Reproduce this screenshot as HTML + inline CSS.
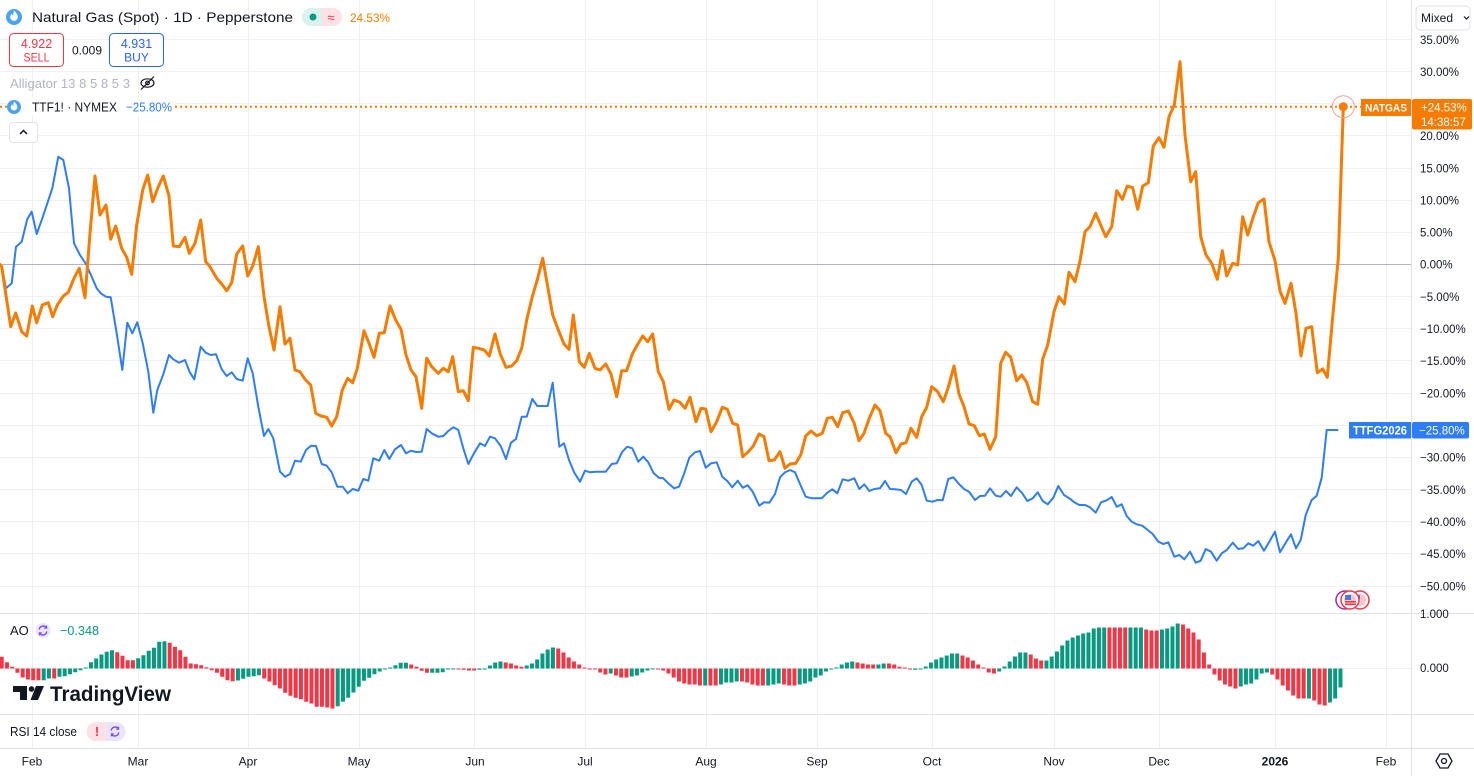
<!DOCTYPE html>
<html><head><meta charset="utf-8">
<style>
html,body{margin:0;padding:0;background:#fff;width:1474px;height:776px;overflow:hidden}
svg{display:block}
text{font-family:"Liberation Sans",sans-serif}
</style></head>
<body>
<svg width="1474" height="776" viewBox="0 0 1474 776" xmlns="http://www.w3.org/2000/svg">
<rect width="1474" height="776" fill="#fff"/>

<!-- grid -->
<g stroke="#eef0f4" stroke-width="1" fill="none">
<path d="M0 39.5H1411M0 71.5H1411M0 103.5H1411M0 135.5H1411M0 168.5H1411M0 200.5H1411M0 232.5H1411M0 296.5H1411M0 328.5H1411M0 360.5H1411M0 393.5H1411M0 425.5H1411M0 457.5H1411M0 489.5H1411M0 521.5H1411M0 553.5H1411M0 586.5H1411M0 668.5H1411"/>
<path d="M32.5 0V748M138.5 0V748M248.5 0V748M359.5 0V748M474.5 0V748M585.5 0V748M706.5 0V748M817.5 0V748M932.5 0V748M1054.5 0V748M1159.5 0V748M1275.5 0V748M1386.5 0V748"/>
</g>
<!-- zero line -->
<path d="M0 264.5H1411" stroke="#b2b5be" stroke-width="1"/>

<!-- pane separators -->
<g stroke="#e0e3eb" stroke-width="1">
<path d="M0 613.5H1474M0 714.5H1474M0 748.5H1474M1411.5 0V776"/>
</g>

<!-- orange dotted price line -->
<path d="M0 106.7H1361" stroke="#F57C00" stroke-width="2" stroke-dasharray="2 3"/>

<!-- blue series -->
<polyline fill="none" stroke="#2E7CF6" stroke-width="2" stroke-linejoin="round" points="0,264.5 1.7,266.7 6,288.3 11.7,283.3 16,246.7 21.7,241.7 27.3,219 31.7,211.7 36.7,234 42.3,218.3 47.3,203.3 52.3,188.3 58.3,156.7 63.3,160 69,188.3 74,243.3 80,255 86,264 91.7,276.7 96.7,288.3 100.7,293.3 106,296.7 110.7,297.3 116.7,333.3 122.3,370 127.3,322.7 132.3,333.3 137.3,322.3 142.7,343.3 148.3,371.7 153.3,412.7 157.3,390 163.3,374.3 169,355 173.3,359.3 179,362.7 185,360 190,372.7 194.3,379.3 200.7,346.7 205.7,352.7 210.7,355 216,354.3 221.7,369.3 226.7,376 231.7,372.3 236.7,379 242.7,380.7 247.7,358.3 252.7,373.3 258.3,406.7 264,436 268.3,429 273.3,438.3 280,471.7 285,476.7 290,474 295,460.7 300.7,461.7 306,450 311,445.7 316,446 321.7,464 326.7,465.7 331.7,472.3 337.3,486.7 342.7,486.7 347.7,493.3 352.7,489 358.3,490.7 363.3,479 368.3,480.7 373.3,458.3 379.3,460.7 384.3,450 389.3,459 395,449.3 401,445 406,453.3 411,450.7 416,452 421.7,451.7 426.7,429 431.7,433.3 438.3,436.7 443.3,436 448.3,431 453.3,427.3 458.3,430 463.3,448.3 468.3,464 474,453.3 480,443.3 485,446 490,436.7 495,438.3 500.7,446 506,459 511,442.7 516,439 521.7,416.7 526.7,416.7 532.3,399 537.3,406 542.7,406 547.7,406 552.7,382.7 559.3,446.7 564,443.3 569,460 574.3,472.7 580,481.7 585,470.7 590,472.3 595.7,471.7 600.7,471.7 605.7,471.7 611.7,464 616.7,463.3 622.3,451.7 627.3,446.7 632.3,448.3 638.3,461.7 643.3,456.7 648.3,462.3 653.3,472.7 659,477.7 663.3,478.3 668.3,483.3 674,488.3 679,486.7 684,474 689.3,457.7 695,452.3 700,451 705.7,467.7 711,463.3 716.7,462.3 722.3,476.7 727.3,481 732.3,487.3 737.7,480.7 742.7,487.7 747.7,485.3 752.7,491.7 759.3,505.7 764,502.3 769.3,502.7 775,494 780,477.3 785,472.3 790,470 795,472.3 800,484 805.7,496.7 811.7,498.3 816.7,498.3 821.7,498.3 827.3,492.7 832.3,489.3 837.3,493.3 842.7,479.3 848.3,480.7 854.3,478.3 859.3,489 864.3,484.3 869.3,491 874.3,489 880,488.3 885,481 890,489 895,489.3 901,490 906,494 911.7,481.7 916.7,478.3 921.7,485 926.7,500.7 932.3,501.7 937.7,500 942.7,500.3 948.3,479 953.3,477.3 959,484 964,489 969,491.7 975,500 980,496 985,495.7 990,488.3 995.7,495.7 1000.7,496.7 1006,491 1011,496 1016.7,487.3 1022.3,493.3 1027.3,501 1032.7,498.3 1037.7,492.3 1042.7,501 1047.7,504.3 1053.3,497.7 1058.3,486 1064,495 1069.3,498.3 1074.3,502.3 1079.3,505 1085,505 1090,507.3 1095.7,512.7 1101,502.3 1106.7,500.3 1111.7,497 1116.7,506.7 1121.7,504.3 1126.7,516 1131.7,521.7 1136.7,524.3 1142.3,525.7 1147.7,530 1152.7,534 1158.3,541.7 1163.3,544 1168.3,542.3 1174.3,556.7 1179.3,555 1184.3,559.3 1190,551.7 1195.7,562.7 1200.7,560.7 1205.7,549 1211,551.7 1216.7,560.7 1221.7,553.3 1226.7,550 1232.7,542.7 1238.3,549 1243.3,548.3 1248.3,543.3 1253.3,545.7 1258.3,541 1264,550.7 1269.3,541.7 1275,531.7 1280,552.3 1285.7,542.7 1291,534.3 1296,548.3 1300.7,540 1305.7,515 1311.7,500 1316.7,495.7 1321.7,477.7 1326.7,430 1338.3,430"/>

<!-- orange series -->
<polyline fill="none" stroke="#F57C00" stroke-width="3" stroke-linejoin="round" stroke-linecap="round" points="0,264.5 1.7,266.7 10.7,326.7 15.7,313 21.7,331.7 26.7,336 32.3,306 36.7,322.7 42.3,305 48.3,302.7 52.7,316.7 57.3,305 63.3,296 68.3,292.3 74,278.3 79.3,268.3 85,297.7 90,233.3 95,176 100,215 106,205 110.7,239.3 115.7,226 121.7,248.3 126.7,257.3 131.7,274.3 136.7,225 142.7,190 147.7,175 152.7,201.7 158.3,186.7 163.3,176 169,196 173.3,246 179.3,246.7 185,237.3 189.3,253.3 195,243.3 200.7,220 205.7,261.7 210,266.7 216.7,278.3 221.7,284 226.7,290.7 231.7,282.7 236.7,254 242.7,246 247.7,276 252.7,266 258.3,246.7 264,296.7 269,326.7 274,350 280,306.7 285,344 290,338.3 295,370 300,371.7 305,379.3 310.7,385 315.7,413.3 321,416 326.7,417.3 331.7,426 336.7,416.7 342.3,390 347.7,378.3 352.7,382.7 357.3,368.3 364,330.7 369,343.3 374,357.3 379.3,333.3 384.3,332.7 390,306 395.7,320 401,329.3 406,355 411,370 416,376.7 421.7,408.3 426.7,358.3 431.7,366.7 438.3,373.3 443.3,368.3 448.3,371.7 452.7,356.7 458.3,391.7 463.3,390.7 468.3,400.7 473.3,347.3 478.3,348.3 484.3,350 489.3,356 495,334 500,353.3 506,367.3 511.7,366 516.7,360.7 521.7,348.3 526.7,320 532.3,296.7 537.7,278.3 542.7,258.3 547.7,286.7 552.7,315 558.3,330 564,344 569,349.3 573.3,315 579.3,361.7 584.3,367.3 589.3,353.3 595,368.3 600,370 605.7,364 611,374 616.7,396.7 621.7,370.7 626.7,370.7 632.3,354 637.3,345 642.7,336 647.7,341.7 652.7,334 658.3,371.7 663.3,381.7 669,409.3 674,400 680,402.3 685,408.3 690,397.3 696,421.7 701,408.3 705.7,409 711,431.7 716.7,421.7 722.3,407.3 727.3,409.3 732.7,423.3 737.7,425 742.7,456.7 748.3,451.7 753.3,446 759,434 764,436.7 769,460.7 774.3,460 780,451.7 785,468.3 790,464 795.7,463.3 800.7,455 805.7,436 811,431 816.7,435.7 822.3,433.3 827.3,418.3 832.3,417.3 837.7,426.7 842.7,412.7 848.3,411 854,422.7 859,440.7 864,433.3 869.3,418.3 875,405 880,410.7 885.7,433.3 890,436.7 896,452.7 901,444 906,442.7 911,428.3 916.7,437.3 921.7,416.7 926.7,407.3 931.7,386.7 937.7,391.7 943.3,401.7 948.3,387.3 954,366 959,394 964,406.7 969,424 974.3,425.7 979.3,435.7 984.3,434 990,449.3 995.7,436.7 1000.7,363.3 1005.7,352.3 1010.7,357.3 1016.7,380.7 1021.7,375 1026.7,382.3 1032.7,401.7 1037.7,404.3 1042.7,359 1047.7,345 1054,311.7 1059,296.7 1064.3,304 1069,272.3 1075,281.7 1080,261 1085,231.7 1090,226.7 1095.7,213.3 1100.7,225 1105.7,236.7 1111.7,226.7 1116.7,190.7 1122.3,199.3 1127.3,186 1132.7,187.7 1137.7,209.3 1142.7,186 1148.3,182.7 1153.3,146 1159,137.7 1164,147.3 1169,116.7 1174.3,105 1180,61.7 1185,135 1190.7,181.7 1195.7,171.7 1200.7,236.7 1206,255 1211.7,263.3 1217.3,279.3 1222.3,250.7 1226.7,276 1232.7,263.3 1237.7,265 1242.7,216.7 1247.7,235 1253.3,216.7 1258.3,202.7 1264,199 1269,241.7 1275,260.7 1280,291 1285,303.3 1291,283.3 1296,313.3 1301,356 1306,328.3 1311.7,326.7 1317.3,372.7 1322.7,369 1327.3,377.3 1332.7,316.7 1338.3,258.3 1343.3,106.7"/>

<!-- endpoint marker -->
<circle cx="1343.3" cy="106.7" r="11" fill="none" stroke="#f4a0a0" stroke-width="1"/>
<circle cx="1343.3" cy="106.7" r="4.5" fill="#F57C00"/>

<!-- series labels on pane -->
<rect x="1361" y="99" width="50" height="17" fill="#F57C00"/>
<text x="1386" y="111.5" font-size="11" font-weight="bold" fill="#fff" text-anchor="middle" textLength="42" lengthAdjust="spacingAndGlyphs">NATGAS</text>
<rect x="1349" y="422" width="62" height="16.5" fill="#2E7CF6"/>
<text x="1380" y="434.5" font-size="11.5" font-weight="bold" fill="#fff" text-anchor="middle" textLength="54" lengthAdjust="spacingAndGlyphs">TTFG2026</text>

<!-- right axis labels -->
<g font-size="11.5" fill="#131722">
<text x="1420" y="44">35.00%</text>
<text x="1420" y="76">30.00%</text>
<text x="1420" y="140">20.00%</text>
<text x="1420" y="172.5">15.00%</text>
<text x="1420" y="204.5">10.00%</text>
<text x="1420" y="236.5">5.00%</text>
<text x="1420" y="268.5">0.00%</text>
<text x="1420" y="301">−5.00%</text>
<text x="1420" y="333">−10.00%</text>
<text x="1420" y="365">−15.00%</text>
<text x="1420" y="397.5">−20.00%</text>
<text x="1420" y="461.5">−30.00%</text>
<text x="1420" y="494">−35.00%</text>
<text x="1420" y="526">−40.00%</text>
<text x="1420" y="558">−45.00%</text>
<text x="1420" y="590.5">−50.00%</text>
<text x="1420" y="618">1.000</text>
<text x="1420" y="672">0.000</text>
</g>
<rect x="1412" y="613.5" width="62" height="0" fill="none"/>
<!-- right axis badges -->
<rect x="1412" y="99" width="60" height="30.5" rx="2" fill="#F57C00"/>
<text x="1421" y="111.5" font-size="11.5" fill="#fff">+24.53%</text>
<text x="1421" y="126" font-size="11.5" fill="#fff">14:38:57</text>
<rect x="1412" y="422" width="57" height="16.5" rx="2" fill="#2E7CF6"/>
<text x="1419" y="434.5" font-size="11.5" fill="#fff">−25.80%</text>

<!-- Mixed button -->
<rect x="1416" y="6" width="54" height="24" rx="4" fill="#fff" stroke="#e0e3eb"/>
<text x="1421" y="22" font-size="12" fill="#131722">Mixed</text>
<path d="M1464 16.5l2.5 2.5 2.5-2.5" fill="none" stroke="#131722" stroke-width="1.2"/>

<!-- event icons -->
<circle cx="1345" cy="600" r="9" fill="#fff" stroke="#9c27b0" stroke-width="1.5"/>
<circle cx="1360" cy="600" r="9" fill="#fff" stroke="#f23645" stroke-width="1.5"/>
<circle cx="1360" cy="600" r="6" fill="#f7c6cc"/>
<rect x="1355" y="595" width="5" height="4" fill="#3f7be0"/>
<circle cx="1350" cy="600" r="9" fill="#fff" stroke="#f23645" stroke-width="1.5"/>
<circle cx="1350" cy="600" r="6" fill="#f7c6cc"/>
<rect x="1345" y="595" width="6" height="5" fill="#3f7be0"/>
<rect x="1345" y="601" width="11" height="1.5" fill="#f23645"/>
<rect x="1345" y="603.5" width="11" height="1.5" fill="#f23645"/>

<!-- AO histogram -->
<path fill="#F23645" d="M-0.3 656.8h4v11.7h-4zM4.95 662.2h4v6.3h-4zM10.2 666.8h4v1.7h-4zM15.45 668.5h4v4.3h-4zM20.7 668.5h4v9h-4zM25.95 668.5h4v11h-4zM31.2 668.5h4v11.7h-4zM36.45 668.5h4v11.7h-4zM52.2 668.5h4v10h-4zM115.2 652.2h4v16.3h-4zM120.45 655.8h4v12.7h-4zM125.7 660.2h4v8.3h-4zM130.95 660.2h4v8.3h-4zM167.7 642.8h4v25.7h-4zM172.95 646.8h4v21.7h-4zM178.2 650.2h4v18.3h-4zM183.45 656.8h4v11.7h-4zM188.7 663.5h4v5h-4zM193.95 664.2h4v4.3h-4zM199.2 665.2h4v3.3h-4zM204.45 667.2h4v1.3h-4zM209.7 668.5h4v1.7h-4zM214.95 668.5h4v4.3h-4zM220.2 668.5h4v8.3h-4zM225.45 668.5h4v11.7h-4zM230.7 668.5h4v12.7h-4zM262.2 668.5h4v10h-4zM267.45 668.5h4v13h-4zM272.7 668.5h4v16.7h-4zM277.95 668.5h4v20h-4zM283.2 668.5h4v24.3h-4zM288.45 668.5h4v27.3h-4zM293.7 668.5h4v29.3h-4zM298.95 668.5h4v30.7h-4zM304.2 668.5h4v33.3h-4zM309.45 668.5h4v35h-4zM314.7 668.5h4v38.3h-4zM319.95 668.5h4v38.3h-4zM325.2 668.5h4v39h-4zM330.45 668.5h4v40h-4zM409.2 664.5h4v4h-4zM414.45 666.8h4v1.7h-4zM419.7 668.5h4v2.3h-4zM424.95 668.5h4v4.3h-4zM456.45 668.5h4v1h-4zM461.7 668.5h4v1.3h-4zM466.95 668.5h4v2h-4zM472.2 668.5h4v2h-4zM503.7 662.5h4v6h-4zM508.95 663.5h4v5h-4zM514.2 665.5h4v3h-4zM519.45 666.8h4v1.7h-4zM556.2 648.5h4v20h-4zM561.45 652.5h4v16h-4zM566.7 657.5h4v11h-4zM571.95 661.5h4v7h-4zM577.2 664.5h4v4h-4zM582.45 667.5h4v1h-4zM587.7 668.5h4v1h-4zM592.95 668.5h4v1h-4zM598.2 668.5h4v4h-4zM603.45 668.5h4v6h-4zM613.95 668.5h4v7h-4zM619.2 668.5h4v9h-4zM624.45 668.5h4v9h-4zM655.95 668.5h4v1h-4zM661.2 668.5h4v2h-4zM666.45 668.5h4v5h-4zM671.7 668.5h4v9h-4zM676.95 668.5h4v13h-4zM682.2 668.5h4v15h-4zM687.45 668.5h4v16h-4zM692.7 668.5h4v16h-4zM697.95 668.5h4v17h-4zM708.45 668.5h4v17h-4zM713.7 668.5h4v17h-4zM739.95 668.5h4v13h-4zM745.2 668.5h4v14h-4zM750.45 668.5h4v16h-4zM755.7 668.5h4v17h-4zM760.95 668.5h4v17h-4zM781.95 668.5h4v16h-4zM787.2 668.5h4v17h-4zM792.45 668.5h4v17h-4zM855.45 662.5h4v6h-4zM860.7 663.5h4v5h-4zM865.95 664.5h4v4h-4zM871.2 664.5h4v4h-4zM886.95 663.5h4v5h-4zM892.2 664.5h4v4h-4zM897.45 666.8h4v1.7h-4zM902.7 667.5h4v1h-4zM907.95 668.5h4v1h-4zM960.45 655.5h4v13h-4zM965.7 657.5h4v11h-4zM970.95 660.5h4v8h-4zM976.2 664.5h4v4h-4zM981.45 667.5h4v1h-4zM986.7 668.5h4v4h-4zM991.95 668.5h4v5h-4zM1028.7 654.5h4v14h-4zM1033.95 658.5h4v10h-4zM1039.2 660.5h4v8h-4zM1107.45 627.5h4v41h-4zM1112.7 627.5h4v41h-4zM1117.95 627.5h4v41h-4zM1123.2 627.5h4v41h-4zM1144.2 629.5h4v39h-4zM1149.45 630.5h4v38h-4zM1154.7 630.5h4v38h-4zM1180.95 624.5h4v44h-4zM1186.2 628.5h4v40h-4zM1191.45 632.5h4v36h-4zM1196.7 639.5h4v29h-4zM1201.95 652.5h4v16h-4zM1207.2 664.5h4v4h-4zM1212.45 668.5h4v6h-4zM1217.7 668.5h4v12h-4zM1222.95 668.5h4v16h-4zM1228.2 668.5h4v18h-4zM1233.45 668.5h4v20h-4zM1270.2 668.5h4v6h-4zM1275.45 668.5h4v11h-4zM1280.7 668.5h4v17h-4zM1285.95 668.5h4v22h-4zM1291.2 668.5h4v27h-4zM1296.45 668.5h4v30h-4zM1301.7 668.5h4v30h-4zM1312.2 668.5h4v32h-4zM1317.45 668.5h4v36h-4zM1322.7 668.5h4v37h-4z"/>
<path fill="#089981" d="M41.7 668.5h4v11.7h-4zM46.95 668.5h4v10h-4zM57.45 668.5h4v8.3h-4zM62.7 668.5h4v7.7h-4zM67.95 668.5h4v5.7h-4zM73.2 668.5h4v3.7h-4zM78.45 668.5h4v1.7h-4zM83.7 667.5h4v1h-4zM88.95 662.2h4v6.3h-4zM94.2 658.5h4v10h-4zM99.45 654.5h4v14h-4zM104.7 651.8h4v16.7h-4zM109.95 650.2h4v18.3h-4zM136.2 658.2h4v10.3h-4zM141.45 655.2h4v13.3h-4zM146.7 650.8h4v17.7h-4zM151.95 647.8h4v20.7h-4zM157.2 641.8h4v26.7h-4zM162.45 641.2h4v27.3h-4zM235.95 668.5h4v12h-4zM241.2 668.5h4v10.3h-4zM246.45 668.5h4v8.3h-4zM251.7 668.5h4v7.7h-4zM256.95 668.5h4v6.7h-4zM335.7 668.5h4v37.7h-4zM340.95 668.5h4v33.3h-4zM346.2 668.5h4v29.3h-4zM351.45 668.5h4v24h-4zM356.7 668.5h4v18.3h-4zM361.95 668.5h4v12.3h-4zM367.2 668.5h4v9.3h-4zM372.45 668.5h4v5.7h-4zM377.7 668.5h4v3h-4zM382.95 668.5h4v1h-4zM388.2 667.5h4v1h-4zM393.45 665.2h4v3.3h-4zM398.7 662.8h4v5.7h-4zM403.95 662.8h4v5.7h-4zM430.2 668.5h4v4.3h-4zM435.45 668.5h4v4.3h-4zM440.7 668.5h4v3.7h-4zM445.95 668.5h4v1h-4zM451.2 668.5h4v1h-4zM477.45 668.5h4v1.3h-4zM482.7 668.5h4v1h-4zM487.95 665.5h4v3h-4zM493.2 662.5h4v6h-4zM498.45 661.5h4v7h-4zM524.7 665.5h4v3h-4zM529.95 663.5h4v5h-4zM535.2 659.5h4v9h-4zM540.45 653.5h4v15h-4zM545.7 649.5h4v19h-4zM550.95 647.5h4v21h-4zM608.7 668.5h4v5h-4zM629.7 668.5h4v8h-4zM634.95 668.5h4v7h-4zM640.2 668.5h4v4h-4zM645.45 668.5h4v2h-4zM650.7 668.5h4v1h-4zM703.2 668.5h4v17h-4zM718.95 668.5h4v16h-4zM724.2 668.5h4v14h-4zM729.45 668.5h4v14h-4zM734.7 668.5h4v13h-4zM766.2 668.5h4v17h-4zM771.45 668.5h4v16h-4zM776.7 668.5h4v15h-4zM797.7 668.5h4v16h-4zM802.95 668.5h4v15h-4zM808.2 668.5h4v13h-4zM813.45 668.5h4v9h-4zM818.7 668.5h4v7h-4zM823.95 668.5h4v3h-4zM829.2 668.5h4v1h-4zM834.45 667.5h4v1h-4zM839.7 664.5h4v4h-4zM844.95 662.5h4v6h-4zM850.2 661.5h4v7h-4zM876.45 664.5h4v4h-4zM881.7 663.5h4v5h-4zM913.2 668.5h4v1.3h-4zM918.45 668.5h4v1h-4zM923.7 666.5h4v2h-4zM928.95 662.5h4v6h-4zM934.2 659.5h4v9h-4zM939.45 657.5h4v11h-4zM944.7 655.5h4v13h-4zM949.95 653.5h4v15h-4zM955.2 653.5h4v15h-4zM997.2 668.5h4v3h-4zM1002.45 666.5h4v2h-4zM1007.7 661.5h4v7h-4zM1012.95 656.5h4v12h-4zM1018.2 652.5h4v16h-4zM1023.45 652.5h4v16h-4zM1044.45 660.5h4v8h-4zM1049.7 656.5h4v12h-4zM1054.95 651.5h4v17h-4zM1060.2 645.5h4v23h-4zM1065.45 640.5h4v28h-4zM1070.7 637.5h4v31h-4zM1075.95 635.5h4v33h-4zM1081.2 633.5h4v35h-4zM1086.45 632.5h4v36h-4zM1091.7 628.5h4v40h-4zM1096.95 627.5h4v41h-4zM1102.2 627.5h4v41h-4zM1128.45 627.5h4v41h-4zM1133.7 627.5h4v41h-4zM1138.95 627.5h4v41h-4zM1159.95 629.5h4v39h-4zM1165.2 628.5h4v40h-4zM1170.45 626.5h4v42h-4zM1175.7 623.5h4v45h-4zM1238.7 668.5h4v18h-4zM1243.95 668.5h4v16h-4zM1249.2 668.5h4v15h-4zM1254.45 668.5h4v11h-4zM1259.7 668.5h4v5h-4zM1264.95 668.5h4v4h-4zM1306.95 668.5h4v30h-4zM1327.95 668.5h4v34h-4zM1333.2 668.5h4v30h-4zM1338.45 668.5h4v19h-4z"/>

<!-- Header legend -->
<circle cx="14" cy="17" r="8" fill="#4aa3f0"/>
<path d="M14 10.5c2.3 2.2 3.8 4.3 3.8 6.6a3.8 3.8 0 0 1-7.6 0c0-1.5.7-2.5 1.7-3.4.2 1.1.7 1.7 1.4 1.9 0-1.9.2-3.4.7-5.1z" fill="#fff"/>
<text x="32" y="22" font-size="14" fill="#131722" textLength="261" lengthAdjust="spacingAndGlyphs">Natural Gas (Spot) · 1D · Pepperstone</text>
<path d="M311 8h11v18h-11a9 9 0 0 1 0-18z" fill="#daf1ec"/>
<path d="M322 8h11a9 9 0 0 1 0 18h-11z" fill="#fde1e6"/>
<circle cx="313" cy="17" r="3.5" fill="#089981"/>
<text x="331" y="22" font-size="13" fill="#f23645" text-anchor="middle">≈</text>
<text x="350" y="22" font-size="12" fill="#F57C00" textLength="40" lengthAdjust="spacingAndGlyphs">24.53%</text>

<rect x="9.5" y="33.5" width="54" height="33" rx="4" fill="#fff" stroke="#f23645"/>
<text x="36.5" y="48" font-size="12.5" fill="#f23645" text-anchor="middle">4.922</text>
<text x="36.5" y="61.5" font-size="12" fill="#f23645" text-anchor="middle" textLength="26" lengthAdjust="spacingAndGlyphs">SELL</text>
<text x="72" y="54.5" font-size="12" fill="#131722">0.009</text>
<rect x="109.5" y="33.5" width="54" height="33" rx="4" fill="#fff" stroke="#2962ff"/>
<text x="136.5" y="48" font-size="12.5" fill="#2962ff" text-anchor="middle">4.931</text>
<text x="136.5" y="61.5" font-size="12" fill="#2962ff" text-anchor="middle">BUY</text>

<text x="10" y="88" font-size="13" fill="#b2b5be" textLength="120" lengthAdjust="spacingAndGlyphs">Alligator 13 8 5 8 5 3</text>
<ellipse cx="147.5" cy="83" rx="6.5" ry="4.2" fill="none" stroke="#131722" stroke-width="1.2"/>
<circle cx="147.5" cy="83" r="1.8" fill="none" stroke="#131722" stroke-width="1.2"/>
<path d="M141 89.5L154 76.5" stroke="#131722" stroke-width="1.2"/>

<rect x="8" y="97" width="167" height="18" fill="#fff"/>
<circle cx="14" cy="107" r="7" fill="#4aa3f0"/>
<path d="M14 101.5c2 1.9 3.3 3.7 3.3 5.7a3.3 3.3 0 0 1-6.6 0c0-1.3.6-2.2 1.5-3 .2 1 .6 1.5 1.2 1.7 0-1.7.2-3 .6-4.4z" fill="#fff"/>
<text x="32" y="111.5" font-size="13" fill="#131722" textLength="85" lengthAdjust="spacingAndGlyphs">TTF1! · NYMEX</text>
<text x="126" y="111.5" font-size="13" fill="#2E7CF6" textLength="46" lengthAdjust="spacingAndGlyphs">−25.80%</text>

<rect x="9.5" y="122.5" width="28" height="20" rx="3" fill="#fff" stroke="#e0e3eb"/>
<path d="M20 134l3.5-3.5 3.5 3.5" fill="none" stroke="#131722" stroke-width="1.5"/>

<!-- AO legend -->
<text x="10" y="635" font-size="13" fill="#131722">AO</text>
<circle cx="43" cy="630.5" r="7.5" fill="#ebe5fb"/>
<path d="M39.2 629.5a4 4 0 0 1 7.2-1.8M46.8 631.5a4 4 0 0 1-7.2 1.8" fill="none" stroke="#7c4dff" stroke-width="1.4"/>
<path d="M46.6 625.8v2.4h-2.4M39.4 635.2v-2.4h2.4" fill="none" stroke="#7c4dff" stroke-width="1.2"/>
<text x="60" y="635" font-size="13" fill="#089981" textLength="39" lengthAdjust="spacingAndGlyphs">−0.348</text>

<!-- TradingView logo -->
<g fill="#131722">
<path d="M13 686h14v14h-7v-8h-7z"/>
<circle cx="31.5" cy="689" r="2.8"/>
<path d="M36 686h8l-6 14h-7.5z"/>
</g>
<text x="50" y="701" font-size="21" font-weight="bold" fill="#131722" textLength="121" lengthAdjust="spacingAndGlyphs">TradingView</text>

<!-- RSI legend -->
<text x="10" y="736" font-size="13" fill="#131722" textLength="67" lengthAdjust="spacingAndGlyphs">RSI 14 close</text>
<path d="M96 722h10v19h-10a9.5 9.5 0 0 1 0-19z" fill="#fde1e6"/>
<path d="M106 722h10a9.5 9.5 0 0 1 0 19h-10z" fill="#ebe5fb"/>
<text x="97" y="736" font-size="13" font-weight="bold" fill="#f23645" text-anchor="middle">!</text>
<path d="M111.2 730.5a4 4 0 0 1 7.2-1.8M118.8 732.5a4 4 0 0 1-7.2 1.8" fill="none" stroke="#7c4dff" stroke-width="1.4"/>
<path d="M118.6 726.8v2.4h-2.4M111.4 736.2v-2.4h2.4" fill="none" stroke="#7c4dff" stroke-width="1.2"/>

<!-- time axis -->
<g font-size="12" fill="#131722" text-anchor="middle">
<text x="32" y="765.5">Feb</text>
<text x="138" y="765.5">Mar</text>
<text x="248" y="765.5">Apr</text>
<text x="359" y="765.5">May</text>
<text x="475" y="765.5">Jun</text>
<text x="585" y="765.5">Jul</text>
<text x="706" y="765.5">Aug</text>
<text x="817" y="765.5">Sep</text>
<text x="932" y="765.5">Oct</text>
<text x="1054" y="765.5">Nov</text>
<text x="1159" y="765.5">Dec</text>
<text x="1275" y="765.5" font-weight="bold">2026</text>
<text x="1386" y="765.5">Feb</text>
</g>
<!-- settings icon -->
<polygon points="1436,761 1440,754 1448,754 1452,761 1448,768 1440,768" fill="none" stroke="#131722" stroke-width="1.3"/>
<circle cx="1444" cy="761" r="2.5" fill="none" stroke="#131722" stroke-width="1.3"/>
</svg>
</body></html>
